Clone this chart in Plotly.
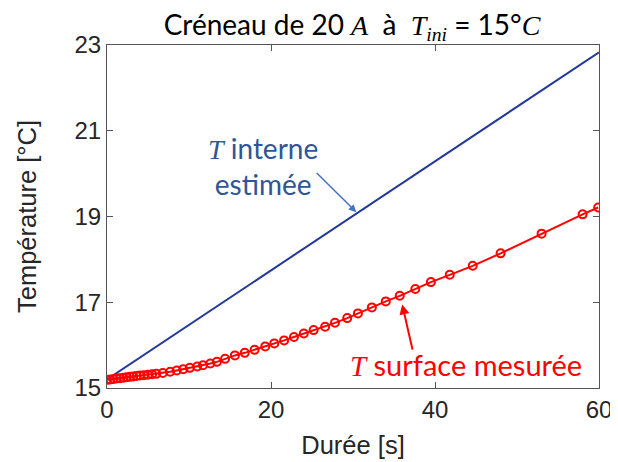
import plotly.graph_objects as go

# Données
temps_interne = [0, 60]
T_interne = [15.2, 22.83]

temps_surface = [0, 0.4, 0.8, 1.2, 1.6, 2.0, 2.4, 2.8, 3.2, 3.6, 4.0, 4.5, 5.0, 5.5, 6.0,
                 6.8, 7.7, 8.5, 9.3, 10.1, 11.0, 11.7, 12.6, 13.4, 14.4, 15.6, 16.8, 18.0,
                 19.3, 20.4, 21.6, 22.8, 24.0, 25.2, 26.6, 27.8, 29.3, 30.6, 32.3, 34.0,
                 35.7, 37.6, 39.5, 41.8, 44.6, 48.0, 53.0, 58.0, 59.9]
T_surface = [15.19, 15.20, 15.21, 15.22, 15.23, 15.24, 15.25, 15.26, 15.27, 15.28, 15.29,
             15.30, 15.31, 15.32, 15.33, 15.35, 15.38, 15.41, 15.44, 15.47, 15.50, 15.53,
             15.57, 15.61, 15.68, 15.76, 15.82, 15.89, 15.97, 16.04, 16.11, 16.19, 16.27,
             16.35, 16.43, 16.52, 16.63, 16.74, 16.88, 17.02, 17.15, 17.31, 17.47, 17.64,
             17.85, 18.14, 18.60, 19.05, 19.21]

x_ticks = [0, 20, 40, 60]
y_ticks = [15, 17, 19, 21, 23]

fig = go.Figure()

# T interne estimée
fig.add_trace(go.Scatter(
    x=temps_interne, y=T_interne,
    mode='lines',
    line=dict(color='#22389a', width=2),
    name='T interne estimée'
))

# T surface mesurée
fig.add_trace(go.Scatter(
    x=temps_surface, y=T_surface,
    mode='lines+markers',
    line=dict(color='#ff0000', width=2),
    marker=dict(symbol='circle-open', size=8, color='#ff0000', line=dict(width=2)),
    name='T surface mesurée'
))

txt_font = 'Lato, Open Sans, sans-serif'
ax_font = 'Arial, Liberation Sans, sans-serif'
math = '<i style="font-family:\'Liberation Serif\', serif">{}</i>'

# Annotations
fig.add_annotation(
    x=19.0, y=20.17, xref='x', yref='y',
    text=math.format('T') + ' interne<br>estimée',
    showarrow=False,
    font=dict(family=txt_font, size=28, color='#2f5597'),
    align='center'
)
fig.add_annotation(
    x=30.4, y=19.1, ax=25.4, ay=20.05, xref='x', yref='y', axref='x', ayref='y',
    text='', showarrow=True, arrowhead=2, arrowsize=1, arrowwidth=1.5,
    arrowcolor='#4472c4'
)
fig.add_annotation(
    x=43.8, y=15.54, xref='x', yref='y',
    text=math.format('T') + ' surface mesurée',
    showarrow=False,
    font=dict(family=txt_font, size=29, color='#ff0000')
)
fig.add_annotation(
    x=36.0, y=16.95, ax=37.3, ay=15.86, xref='x', yref='y', axref='x', ayref='y',
    text='', showarrow=True, arrowhead=2, arrowsize=1, arrowwidth=2,
    arrowcolor='#ff0000'
)

# la page HTML décale la figure de 8 px (marge du body)
fig.update_layout(
    width=610, height=454,
    margin=dict(l=99, r=19, t=37, b=74),
    plot_bgcolor='white',
    paper_bgcolor='white',
    showlegend=False,
    title=dict(
        text='Créneau de 20 ' + math.format('A') + '  à  '
             + math.format('T<sub>ini</sub>') + ' = 15°' + math.format('C'),
        x=0.564, xanchor='center', y=0.962, yanchor='middle',
        font=dict(family=txt_font, size=28, color='#000000')
    ),
    font=dict(family=ax_font, size=24, color='#262626')
)

fig.update_xaxes(
    range=[0, 60], tickvals=x_ticks, automargin=False,
    ticks='inside', ticklen=6, tickcolor='#555555',
    tickfont=dict(family=ax_font, size=24, color='#262626'),
    showline=True, linecolor='#555555', linewidth=1, mirror='ticks',
    showgrid=False, zeroline=False,
    title=dict(text='Durée [s]', standoff=14, font=dict(family=ax_font, size=25.5, color='#262626'))
)
fig.update_yaxes(
    range=[15, 23], tickvals=y_ticks, automargin=False,
    ticks='inside', ticklen=6, tickcolor='#555555',
    tickfont=dict(family=ax_font, size=24, color='#262626'),
    showline=True, linecolor='#555555', linewidth=1, mirror='ticks',
    showgrid=False, zeroline=False,
    title=dict(text='Température [°C]', standoff=30, font=dict(family=ax_font, size=25.5, color='#262626'))
)

fig.write_html("out.html")
